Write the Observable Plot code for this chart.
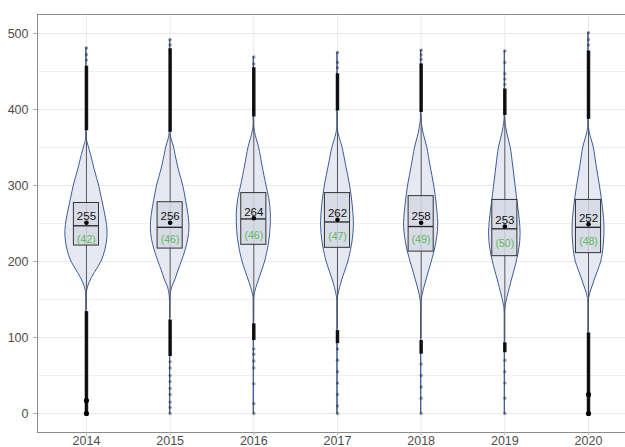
<!DOCTYPE html>
<html><head><meta charset="utf-8">
<script src="https://cdn.jsdelivr.net/npm/d3@7"></script>
<script src="https://cdn.jsdelivr.net/npm/@observablehq/plot@0.6"></script>
<style>body{margin:0;background:#fff;overflow:hidden}</style>
</head><body><div id="chart"></div>
<script>
const years = [2014, 2015, 2016, 2017, 2018, 2019, 2020];
const meanLabel = [255, 256, 264, 262, 258, 253, 252];
const sdLabel = [42, 46, 46, 47, 49, 50, 48];
const q1 = [221, 217, 222, 218, 213, 207, 211];
const median = [247, 245, 256, 252, 246, 243, 245];
const q3 = [277, 278, 290, 290, 286, 281, 281];
const meanDot = [251, 251, 257, 255, 251, 246, 249];
const whiskerLo = [136, 125, 120, 111, 98, 95, 108];
const whiskerHi = [370, 368, 388, 396, 394, 390, 385];
const denseUpLo = [372, 370, 390, 398, 396, 392, 387];
const denseUpHi = [457, 480, 455, 447, 460, 427, 477];
const denseDnLo = [0, 75, 96, 92, 78, 80, 0];
const denseDnHi = [134, 123, 118, 109, 96, 93, 106];
const sparseOutliers = [
  [465, 472, 481, 17, 0],
  [485, 492, 68, 60, 50, 42, 33, 25, 15, 8, 0],
  [460, 469, 85, 78, 69, 60, 39, 13, 0],
  [455, 462, 475, 85, 70, 55, 40, 25, 10, 0],
  [466, 472, 478, 65, 50, 35, 20, 0],
  [433, 440, 447, 462, 477, 70, 55, 40, 20, 0],
  [485, 492, 501, 25, 21, 0]
];
const heavyOutliers = [[0, 17], [], [], [], [], [], [0, 25]];
const violinProfiles = [
  [[0,0.01],[150,0.01],[161,0.03],[172,0.15],[185,0.4],[200,0.72],[215,0.9],[232,1],[248,0.98],[265,0.87],[282,0.74],[300,0.6],[320,0.4],[340,0.22],[352,0.1],[359,0.03],[370,0.01],[481,0.01]],
  [[0,0.01],[150,0.01],[157,0.03],[166,0.1],[175,0.24],[188,0.4],[200,0.56],[215,0.74],[230,0.87],[245,0.92],[260,0.88],[280,0.76],[300,0.62],[320,0.42],[340,0.26],[350,0.19],[362,0.06],[370,0.02],[380,0.01],[492,0.01]],
  [[0,0.01],[148,0.01],[155,0.03],[165,0.12],[175,0.24],[188,0.4],[200,0.54],[220,0.7],[240,0.79],[263,0.81],[282,0.74],[300,0.6],[325,0.42],[350,0.25],[365,0.1],[376,0.02],[390,0.01],[469,0.01]],
  [[0,0.01],[148,0.01],[154,0.03],[165,0.12],[175,0.22],[188,0.38],[200,0.52],[220,0.68],[237,0.76],[253,0.78],[275,0.72],[300,0.6],[325,0.42],[350,0.24],[364,0.09],[373,0.02],[385,0.01],[475,0.01]],
  [[0,0.01],[143,0.01],[150,0.03],[162,0.12],[175,0.25],[188,0.38],[200,0.51],[220,0.69],[245,0.81],[270,0.76],[300,0.62],[325,0.45],[350,0.29],[368,0.12],[385,0.02],[395,0.01],[478,0.01]],
  [[0,0.01],[133,0.01],[140,0.03],[152,0.12],[165,0.24],[175,0.33],[188,0.46],[200,0.57],[218,0.7],[236,0.75],[255,0.71],[275,0.62],[300,0.51],[325,0.4],[350,0.28],[368,0.12],[385,0.02],[395,0.01],[477,0.01]],
  [[0,0.01],[145,0.01],[152,0.03],[163,0.14],[175,0.29],[188,0.46],[200,0.61],[220,0.72],[245,0.76],[270,0.69],[300,0.54],[325,0.39],[350,0.25],[365,0.1],[376,0.02],[388,0.01],[501,0.01]]
];
const yMajor = [0, 100, 200, 300, 400, 500];
const yMinor = [50, 150, 250, 350, 450];

const VW = 0.251, BW = 0.15;
const stats = years.map((year, i) => ({year, q1: q1[i], median: median[i], q3: q3[i], mean: meanDot[i],
  label: String(meanLabel[i]), sd: `(${sdLabel[i]})`, wlo: whiskerLo[i], whi: whiskerHi[i]}));
const violin = years.flatMap((year, i) => violinProfiles[i].map(([value, density]) => ({year, value, density})));
const dense = years.flatMap((year, i) => [
  {year, lo: denseUpLo[i], hi: denseUpHi[i]}, {year, lo: denseDnLo[i], hi: denseDnHi[i]}]);
const sparse = years.flatMap((year, i) => sparseOutliers[i].map(value => ({year, value})));
const heavy = years.flatMap((year, i) => heavyOutliers[i].map(value => ({year, value})));

const chart = Plot.plot({
  width: 625, height: 447,
  marginLeft: 37, marginRight: 0, marginTop: 14, marginBottom: 15,
  style: {fontFamily: "'Liberation Sans', Arial, sans-serif", background: "white", overflow: "hidden"},
  x: {domain: [2013.415, 2020.442], axis: null},
  y: {domain: [-25, 525], axis: null},
  marks: [
    Plot.ruleY(yMinor, {stroke: "#f0f0f0", strokeWidth: 1}),
    Plot.ruleY(yMajor, {stroke: "#e8e8e8", strokeWidth: 1}),
    Plot.ruleX(years, {stroke: "#e8e8e8", strokeWidth: 1}),
    Plot.ruleY([-25, 525], {stroke: "#8c8c8c"}),
    Plot.ruleX([2013.415], {stroke: "#8c8c8c"}),
    Plot.axisY(yMajor, {tickSize: 4, tickPadding: 5, fontSize: 12.5, fill: "#4d4d4d", stroke: "#b3b3b3", label: null, tickFormat: d => String(d)}),
    Plot.axisX(years, {tickSize: 3, tickPadding: 1, fontSize: 12.5, fill: "#4d4d4d", stroke: "#b3b3b3", label: null, tickFormat: d => String(d)}),
    Plot.areaX(violin, {y: "value", x1: d => d.year - d.density * VW, x2: d => d.year + d.density * VW, z: "year",
      fill: "#e6e9f2", stroke: "#3d5c99", strokeWidth: 1, curve: "catmull-rom"}),
    Plot.ruleX(stats, {x: "year", y1: "wlo", y2: "whi", stroke: "#555", strokeWidth: 1}),
    Plot.ruleX(dense, {x: "year", y1: "lo", y2: "hi", stroke: "#000", strokeWidth: 3.5, strokeOpacity: 0.9}),
    Plot.dot(sparse, {x: "year", y: "value", r: 1.7, fill: "#222", fillOpacity: 0.45}),
    Plot.dot(heavy, {x: "year", y: "value", r: 2.6, fill: "#000"}),
    Plot.rect(stats, {x1: d => d.year - BW, x2: d => d.year + BW, y1: "q1", y2: "q3",
      fill: "#d3d8e3", fillOpacity: 0.85, stroke: "#333", strokeWidth: 1}),
    Plot.ruleY(stats, {y: "median", x1: d => d.year - BW, x2: d => d.year + BW, stroke: "#222", strokeWidth: 1.3}),
    Plot.dot(stats, {x: "year", y: "mean", r: 2.3, fill: "#000"}),
    Plot.text(stats, {x: "year", y: "mean", text: "label", dy: -6, fontSize: 11.5, fill: "#111"}),
    Plot.text(stats, {x: "year", y: "mean", text: "sd", dy: 17, fontSize: 10.5, fill: "#5cb85c"})
  ]
});
document.getElementById("chart").append(chart);
</script>
</body></html>
